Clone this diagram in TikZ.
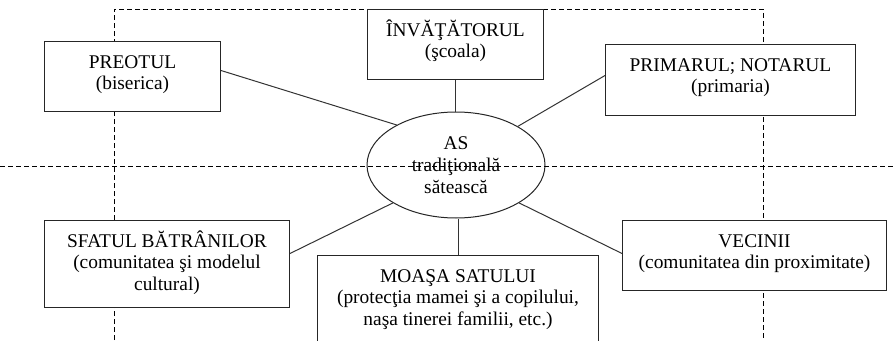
\documentclass[tikz,border=0pt]{standalone}
\usepackage{fontspec}
\setmainfont{Liberation Serif}
\usetikzlibrary{shapes.geometric}
\newcommand\fbtext[3]{\parbox[t][#2][t]{#1}{\centering\rule{0pt}{26.5pt}#3}}
\begin{document}
\begin{tikzpicture}[x=1pt,y=-1pt,
  frame/.style={draw=black!85, line width=1pt, fill=white, inner sep=0pt, anchor=north west, font=\fontsize{19.4}{21.7}\selectfont},
  link/.style={draw=black!80, line width=1pt},
  guide/.style={draw=black, line width=0.9pt, dash pattern=on 5pt off 3pt},
  hub/.style={ellipse, draw=black!85, line width=1pt, fill=white, inner sep=0pt, minimum width=178pt, minimum height=106pt, align=center, font=\fontsize{19.4}{22}\selectfont}]
\useasboundingbox (0,0) rectangle (894,340);
\clip (0,0) rectangle (894,340);
% dashed guide frame
\coordinate (gl) at (114,340);
\coordinate (gtl) at (114,9);
\coordinate (gtr) at (763,9);
\coordinate (gr) at (763,340);
\coordinate (hl) at (0,166);
\coordinate (hr) at (894,166);
\draw[guide] (gl) -- (gtl) -- (gtr) -- (gr);
% nodes
\node[frame] (preot) at (44,41) {\fbtext{176pt}{70pt}{PREOTUL\\(biserica)}};
\node[frame] (inv) at (367,9) {\fbtext{176pt}{70pt}{ÎNVĂŢĂTORUL\\(şcoala)}};
\node[frame] (prim) at (605,44) {\fbtext{250pt}{71pt}{PRIMARUL; NOTARUL\\(primaria)}};
\node[frame] (sfat) at (44,220) {\fbtext{245pt}{87pt}{SFATUL BĂTRÂNILOR\\(comunitatea şi modelul\\cultural)}};
\node[frame] (moasa) at (317,255) {\fbtext{281pt}{100pt}{MOAŞA SATULUI\\(protecţia mamei şi a copilului,\\naşa tinerei familii, etc.)}};
\node[frame] (vec) at (622,220) {\fbtext{264pt}{70pt}{VECINII\\(comunitatea din proximitate)}};
\node[hub] (as) at (456,165) {AS\\tradiţională\\sătească};
% connectors
\draw[link] ([yshift=6pt]preot.east) -- (as.146);
\draw[link] (inv.south) -- (inv.south |- as.north);
\draw[link] ([yshift=4.5pt]prim.west) -- (as.32);
\draw[link] ([yshift=10.5pt]sfat.east) -- (as.211);
\draw[link] ([yshift=2pt]vec.west) -- (as.-31);
\draw[link] (as.south -| moasa.north) -- (moasa.north);
% horizontal dashed line on top
\draw[guide] (hl) -- (hr);
\end{tikzpicture}
\end{document}
